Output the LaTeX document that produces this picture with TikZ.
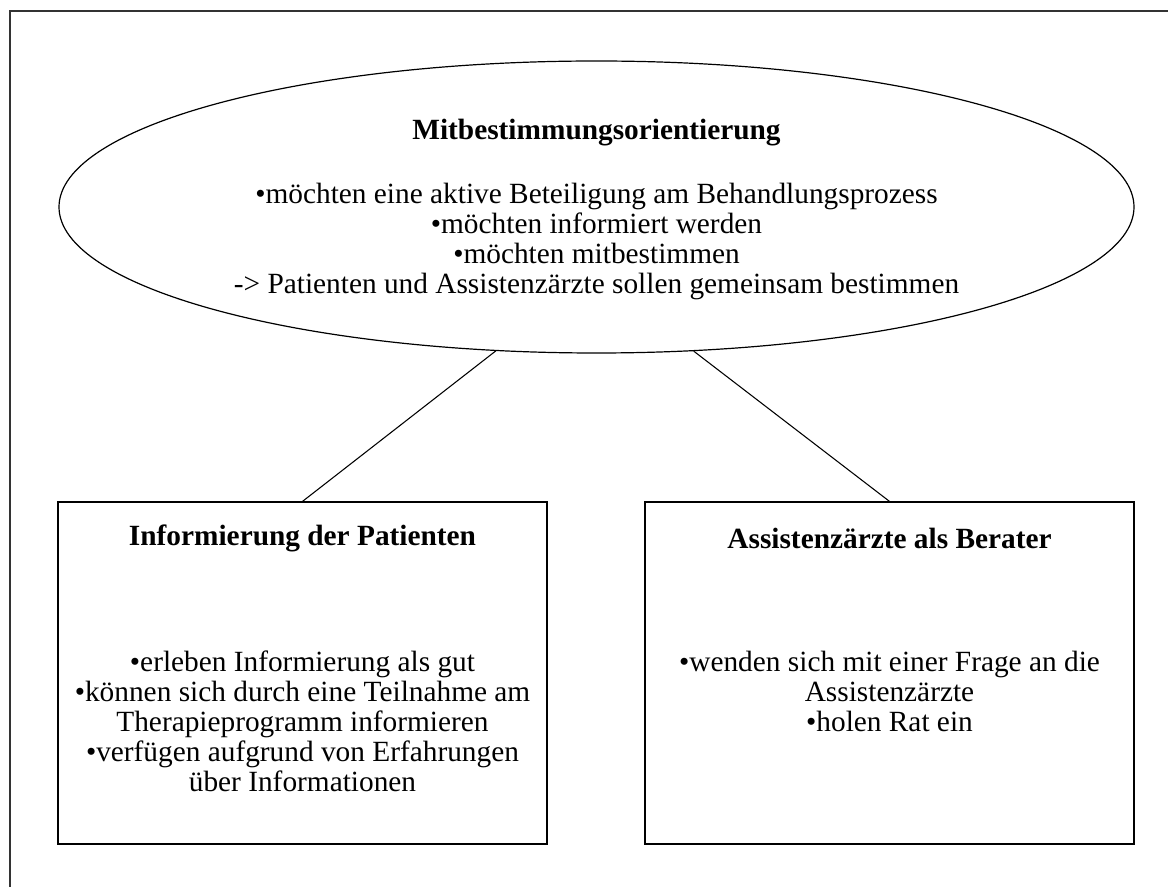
\documentclass[tikz,border=0pt]{standalone}
\usepackage{fontspec}
\setmainfont{Liberation Serif}
\usetikzlibrary{shapes.geometric}
\begin{document}
\begin{tikzpicture}[x=0.75pt,y=-0.75pt,
  frame/.style={draw=black!80,line width=0.9pt},
  shapeline/.style={draw=black,line width=0.9pt},
  link/.style={draw=black,line width=0.8pt},
  txt/.style={align=center,inner sep=0pt,font=\fontsize{22pt}{22.5pt}\selectfont},
  ttl/.style={txt,font=\fontsize{22pt}{22.5pt}\selectfont\bfseries}]
\useasboundingbox (0,0) rectangle (1168,887);
% page frame (left and top edges)
\draw[frame] (10,887) -- (10,11) -- (1168,11);
% shapes
\node[shapeline,ellipse,minimum width=806.25pt,minimum height=219pt,inner sep=0pt] (ell) at (596.5,207) {};
\node[shapeline,rectangle,minimum width=366.75pt,minimum height=256.5pt,inner sep=0pt] (lbox) at (302.5,673) {};
\node[shapeline,rectangle,minimum width=366.75pt,minimum height=256.5pt,inner sep=0pt] (rbox) at (889.5,673) {};
% texts
\node[ttl] (ellt) at (596.5,133) {Mitbestimmungsorientierung};
\node[txt] (ellb) at (596.5,241) {•möchten eine aktive Beteiligung am Behandlungsprozess\\•möchten informiert werden\\•möchten mitbestimmen\\-> Patienten und Assistenzärzte sollen gemeinsam bestimmen};
\node[ttl] (lt) at (302.5,538) {Informierung der Patienten};
\node[txt] (lb) at (302.5,721) {•erleben Informierung als gut\\•können sich durch eine Teilnahme am\\Therapieprogramm informieren\\•verfügen aufgrund von Erfahrungen\\über Informationen};
\node[ttl] (rt) at (889.5,538) {Assistenzärzte als Berater};
\node[txt] (rb) at (889.5,691) {•wenden sich mit einer Frage an die\\Assistenzärzte\\•holen Rat ein};
% connectors
\draw[link] (ell.235.8) -- (lbox.north);
\draw[link] (ell.304.2) -- (rbox.north);
\end{tikzpicture}
\end{document}
